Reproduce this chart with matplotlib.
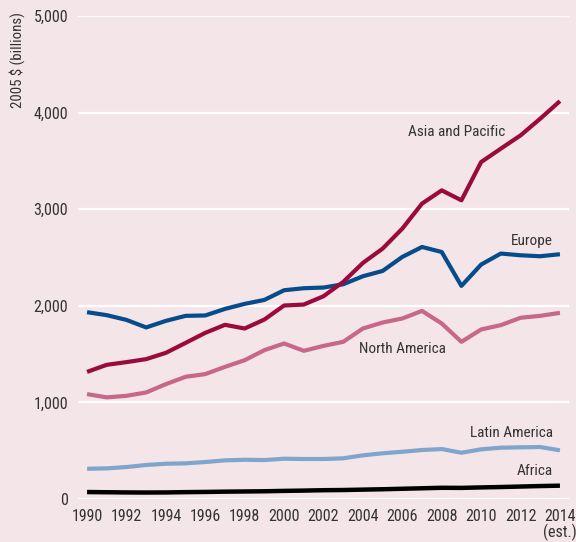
import matplotlib
matplotlib.use("Agg")
import matplotlib.pyplot as plt

years = list(range(1990, 2015))
asia_pacific = [1316, 1389, 1417, 1448, 1513, 1616, 1720, 1803, 1765, 1858, 2003, 2013,
                2099, 2247, 2444, 2592, 2799, 3058, 3195, 3092, 3488, 3627, 3764, 3937, 4119]
europe = [1934, 1903, 1854, 1776, 1844, 1896, 1900, 1968, 2020, 2061, 2161, 2182,
          2189, 2223, 2306, 2361, 2506, 2609, 2557, 2206, 2427, 2541, 2523, 2513, 2534]
north_america = [1086, 1052, 1068, 1103, 1189, 1265, 1293, 1368, 1437, 1541, 1610, 1534,
                 1585, 1627, 1765, 1827, 1869, 1947, 1817, 1627, 1755, 1800, 1876, 1896, 1927]
latin_america = [313, 317, 331, 352, 365, 369, 383, 400, 406, 403, 417, 414,
                 414, 421, 452, 473, 489, 507, 517, 479, 514, 531, 535, 538, 504]
africa = [72, 70, 68, 67, 68, 71, 73, 76, 78, 80, 84, 87,
          91, 93, 97, 101, 106, 111, 116, 115, 120, 124, 129, 134, 138]

xtick_years = list(range(1990, 2015, 2))
xtick_labels = [str(y) for y in xtick_years[:-1]] + ["2014\n(est.)"]
yticks = [0, 1000, 2000, 3000, 4000, 5000]
ytick_labels = ["0", "1,000", "2,000", "3,000", "4,000", "5,000"]

bg = "#F4E5E9"
txt = "#333333"
fam = ["Roboto Condensed", "Liberation Sans"]
plt.rcParams["font.family"] = fam

fig = plt.figure(figsize=(5.76, 5.42), dpi=100, facecolor=bg)
ax = fig.add_axes([78/576, 43/542, 491/576, 483/542], facecolor=bg)

ax.set_xlim(1989.54, 2014.46)
ax.set_ylim(0, 5000)
for y in yticks:
    ax.axhline(y, color="white", lw=1.6, zorder=1)

ax.plot(years, latin_america, color="#7FA5CC", lw=3, zorder=3, solid_capstyle="butt")
ax.plot(years, africa, color="#000000", lw=3.2, zorder=3, solid_capstyle="butt")
ax.plot(years, north_america, color="#C7678A", lw=3, zorder=3, solid_capstyle="butt")
ax.plot(years, europe, color="#064C8C", lw=3, zorder=4, solid_capstyle="butt")
ax.plot(years, asia_pacific, color="#9A0A3C", lw=3, zorder=5, solid_capstyle="butt")

for s in ax.spines.values():
    s.set_visible(False)
ax.set_xticks(xtick_years)
ax.set_xticklabels(xtick_labels, linespacing=1.0)
ax.set_yticks(yticks)
ax.set_yticklabels(ytick_labels)
ax.tick_params(axis="both", length=0, labelsize=11.5, colors=txt)
ax.tick_params(axis="x", pad=7)
ax.tick_params(axis="y", pad=7)

lab_kw = dict(fontsize=11, color=txt, zorder=6)
ax.text(2008.77, 3800, "Asia and Pacific", ha="center", va="center", **lab_kw)
ax.text(2013.64, 2668, "Europe", ha="right", va="center", **lab_kw)
ax.text(2005.99, 1551, "North America", ha="center", va="center", **lab_kw)
ax.text(2013.64, 683, "Latin America", ha="right", va="center", **lab_kw)
ax.text(2013.64, 290, "Africa", ha="right", va="center", **lab_kw)

fig.text(17/576, 1 - 12/542, "2005 $ (billions)", rotation=90, ha="center", va="top",
         fontsize=10.7, color=txt)

fig.savefig("out.png", dpi=100, facecolor=bg)
